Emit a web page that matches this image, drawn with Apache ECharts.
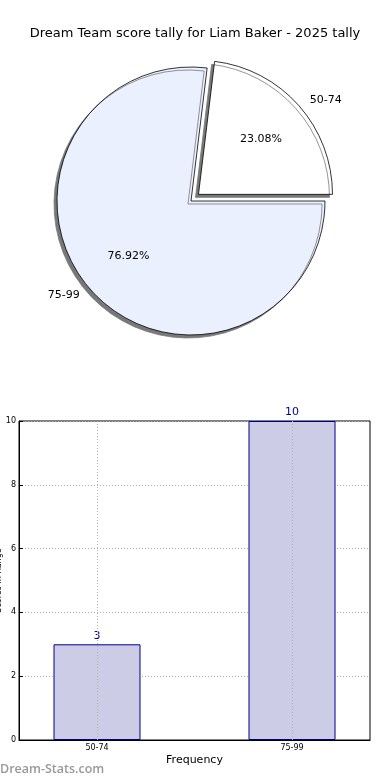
<!DOCTYPE html>
<html>
<head>
<meta charset="utf-8">
<script src="https://cdn.jsdelivr.net/npm/echarts@6/dist/echarts.min.js"></script>
<style>html,body{margin:0;padding:0;background:#fff}#c{width:390px;height:780px}</style>
</head>
<body>
<div id="c"></div>
<script>
var titleText = 'Dream Team score tally for Liam Baker - 2025 tally';
var categories = ['50-74', '75-99'];
var counts = [3, 10];
var sliceColors = ['#ffffff', '#eaf0fd'];
var xTickPositions = [0, 1];

var R = 134;
var FONT = 'DejaVu Sans';
var chart = echarts.init(document.getElementById('c'), null, {renderer: 'canvas'});

var pieData = categories.map(function (c, i) {
  return {name: c, value: counts[i], selected: i === 0, itemStyle: {color: sliceColors[i]}};
});
var labelData = categories.map(function (c, i) {
  return {name: c, value: counts[i], selected: i === 0};
});

var option = {
  animation: false,
  backgroundColor: '#ffffff',
  title: {
    text: titleText, left: 'center', top: 22,
    textStyle: {fontFamily: FONT, fontSize: 13, fontWeight: 'normal', color: '#000'}
  },
  graphic: [{
    type: 'text', left: 0, top: 763,
    style: {text: 'Dream-Stats.com', fill: '#999999', font: '600 12.5px "Open Sans"'}
  }],
  grid: {left: 19, right: 20, top: 421, bottom: 40, show: true, borderColor: '#000', borderWidth: 1,
    containLabel: false, outerBoundsMode: 'none'},
  xAxis: {
    type: 'value', min: -0.4, max: 1.4,
    name: 'Frequency', nameLocation: 'middle', nameGap: 15,
    nameTextStyle: {fontFamily: FONT, fontSize: 11, color: '#000'},
    axisLine: {show: true, onZero: false, lineStyle: {color: '#000'}},
    axisTick: {show: true, inside: true, length: 4, customValues: xTickPositions, lineStyle: {color: '#000'}},
    axisLabel: {customValues: xTickPositions, fontFamily: FONT, fontSize: 8, color: '#000', margin: 4,
      formatter: function (v) { return categories[Math.round(v)]; }},
    splitLine: {show: false}
  },
  yAxis: {
    type: 'value', min: 0, max: 10, interval: 2,
    name: 'Scores in Range', nameLocation: 'middle', nameGap: 16, nameRotate: 90, nameMoveOverlap: false,
    nameTextStyle: {fontFamily: FONT, fontSize: 8, color: '#000'},
    axisLine: {show: true, onZero: false, lineStyle: {color: '#000'}},
    axisTick: {show: true, inside: true, length: 4, lineStyle: {color: '#000'}},
    axisLabel: {fontFamily: FONT, fontSize: 8, color: '#000', margin: 3},
    splitLine: {show: true, lineStyle: {color: '#b0b0b0', type: [1, 2], width: 1}}
  },
  series: [
    {
      type: 'pie', center: [191, 201], radius: [0, R],
      startAngle: 0, clockwise: false,
      selectedMode: 'single', selectedOffset: 10,
      silent: true,
      data: pieData,
      itemStyle: {borderColor: '#000', borderWidth: 0.8, shadowColor: 'rgba(120,120,120,1)', shadowBlur: 0, shadowOffsetX: -3, shadowOffsetY: 3},
      label: {show: true, position: 'outside', formatter: '{b}', fontFamily: FONT, fontSize: 11, color: '#000', distanceToLabelLine: 5},
      labelLine: {show: false, length: 8, length2: 0},
      emphasis: {disabled: true}
    },
    {
      type: 'pie', center: [191, 201], radius: [0.2 * R, R],
      startAngle: 0, clockwise: false,
      selectedMode: 'single', selectedOffset: 10,
      silent: true, z: 3,
      data: labelData,
      itemStyle: {color: 'rgba(0,0,0,0)', borderWidth: 0},
      label: {show: true, position: 'inside', formatter: '{d}%', fontFamily: FONT, fontSize: 11, color: '#000'},
      labelLine: {show: false},
      emphasis: {disabled: true}
    },
    {
      type: 'bar', barWidth: 87,
      data: counts.map(function (v, i) { return [xTickPositions[i], v]; }),
      itemStyle: {color: '#ccccE6', borderColor: '#00008b', borderWidth: 1},
      label: {show: true, position: 'top', distance: 3, fontFamily: FONT, fontSize: 11, color: '#00008b',
        formatter: function (p) { return p.value[1]; }},
      markLine: {
        silent: true, symbol: 'none', label: {show: false},
        lineStyle: {color: '#b0b0b0', type: [1, 2], width: 1},
        data: xTickPositions.map(function (x) { return {xAxis: x}; })
      }
    }
  ]
};
chart.setOption(option);
</script>
</body>
</html>
